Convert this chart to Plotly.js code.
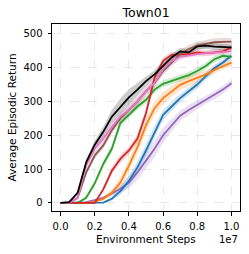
<!DOCTYPE html>
<html><head><meta charset="utf-8">
<script src="https://cdn.plot.ly/plotly-3.0.1.min.js"></script>
<style>html,body{margin:0;padding:0;background:#fff;}#c{width:249px;height:254px;}</style>
</head><body><div id="c"></div>
<script>
// Environment steps (in units of 1e7)
const steps = [0,0.05,0.1,0.15,0.2,0.25,0.3,0.35,0.4,0.45,0.5,0.55,0.6,0.65,0.7,0.75,0.8,0.85,0.9,0.95,1.0];
const xTickVals = [0,0.2,0.4,0.6,0.8,1.0];
const xTickText = ["0.0","0.2","0.4","0.6","0.8","1.0"];
const yTickVals = [0,100,200,300,400,500];

const blueMean   = [0,0,0,0,0,1,12,35,65,105,155,210,260,285,310,330,350,375,398,415,435];
const blueStd    = [0,0,0,0,0,2,6,12,15,18,18,18,15,14,12,12,12,12,10,10,8];
const orangeMean = [0,0,0,0,3,12,30,60,110,165,230,280,310,330,349,360,369,380,393,405,415];
const orangeStd  = [0,0,0,0,2,5,10,15,18,20,20,20,18,16,15,15,14,12,12,10,10];
const greenMean  = [0,0,0,15,58,115,160,236,262,285,305,335,352,360,369,378,390,405,425,435,432];
const greenStd   = [0,0,0,5,8,10,12,12,10,10,10,10,10,10,10,10,10,10,10,8,8];
const redMean    = [0,0,0,0,0,40,95,130,155,190,265,370,420,438,440,440,445,443,445,448,460];
const redStd     = [0,0,0,0,0,6,10,12,12,12,15,12,10,8,8,8,8,8,8,8,8];
const purpleMean = [0,0,0,2,8,15,28,42,60,90,125,160,200,230,258,275,290,305,318,335,354];
const purpleStd  = [0,0,0,1,3,5,8,12,18,22,25,25,22,18,15,15,14,12,12,12,10];
const brownMean  = [0,0,15,90,140,170,215,250,275,300,330,355,390,415,440,455,465,470,475,476,477];
const brownStd   = [0,0,4,8,10,10,12,12,12,12,12,12,12,12,12,12,12,12,12,12,10];
const pinkMean   = [0,0,15,110,160,190,225,255,275,300,330,355,395,420,432,437,440,443,445,446,448];
const pinkStd    = [0,0,4,10,12,12,12,12,12,12,15,15,12,10,10,8,8,8,8,8,8];
const blackMean  = [0,2,30,120,172,210,255,285,312,335,360,380,405,430,448,445,463,465,462,460,460];
const blackStd   = [0,1,6,10,12,15,20,24,24,20,15,12,12,10,10,10,10,10,10,10,8];

const series = [
  {m: purpleMean, s: purpleStd, c: "148,103,189"},
  {m: blueMean,   s: blueStd,   c: "31,119,180"},
  {m: orangeMean, s: orangeStd, c: "255,127,14"},
  {m: greenMean,  s: greenStd,  c: "44,160,44"},
  {m: redMean,    s: redStd,    c: "214,39,40"},
  {m: brownMean,  s: brownStd,  c: "140,86,75"},
  {m: pinkMean,   s: pinkStd,   c: "227,119,194"},
  {m: blackMean,  s: blackStd,  c: "0,0,0"}
];

const traces = [];
series.forEach(sr => {
  const up = sr.m.map((v,i)=>v+sr.s[i]);
  const lo = sr.m.map((v,i)=>v-sr.s[i]);
  traces.push({
    x: steps.concat(steps.slice().reverse()),
    y: up.concat(lo.slice().reverse()),
    type: "scatter", mode: "lines", fill: "toself",
    fillcolor: "rgba(" + sr.c + ",0.2)", line: {width: 0},
    hoverinfo: "skip", showlegend: false
  });
});
series.forEach(sr => {
  traces.push({
    x: steps, y: sr.m, type: "scatter", mode: "lines",
    line: {color: "rgb(" + sr.c + ")", width: 1.8}, showlegend: false
  });
});

const font = "DejaVu Sans, sans-serif";
const plotH = 254 - 24 - 43;
const layout = {
  width: 249, height: 254,
  margin: {l: 52, r: 9, t: 24, b: 43},
  paper_bgcolor: "#fff", plot_bgcolor: "#fff",
  font: {family: font, color: "#000", size: 10},
  title: {text: "Town01", font: {size: 12.5, family: font}, x: 0.5867, xanchor: "center", y: 0.95, yanchor: "middle"},
  xaxis: {
    range: [-0.05, 1.05], tickvals: xTickVals, ticktext: xTickText,
    showline: true, mirror: true, linecolor: "#000", linewidth: 1,
    ticks: "outside", ticklen: 3.5, tickcolor: "#000", ticklabelstandoff: 2,
    showgrid: true, gridcolor: "#e3e3e3", griddash: "dash", gridwidth: 0.8,
    zeroline: false
  },
  yaxis: {
    range: [-24, 529], tickvals: yTickVals,
    showline: true, mirror: true, linecolor: "#000", linewidth: 1,
    ticks: "outside", ticklen: 3.5, tickcolor: "#000", ticklabelstandoff: 3,
    showgrid: true, gridcolor: "#e3e3e3", griddash: "dash", gridwidth: 0.8,
    zeroline: false,
    title: {text: "Average Episodic Return", font: {size: 10.5}, standoff: 4}
  },
  annotations: [
    {text: "Environment Steps", xref: "paper", yref: "paper", x: 0.5, y: -28/plotH,
     xanchor: "center", yanchor: "middle", showarrow: false, font: {size: 10.5}},
    {text: "1e7", xref: "paper", yref: "paper", x: 1, y: -28/plotH,
     xanchor: "right", yanchor: "middle", showarrow: false, font: {size: 10}}
  ]
};
Plotly.newPlot("c", traces, layout, {displayModeBar: false, staticPlot: true});
</script></body></html>
